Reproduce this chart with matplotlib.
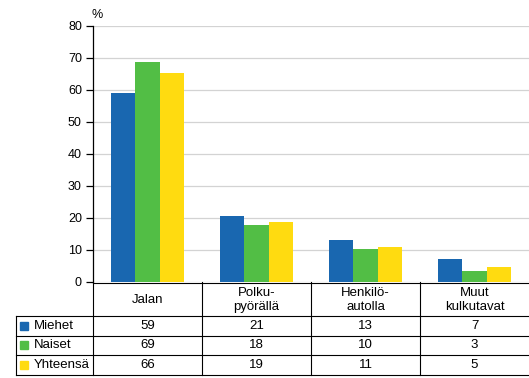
import matplotlib
matplotlib.use('Agg')
import matplotlib.pyplot as plt

plt.rcParams['font.family'] = ['Liberation Sans', 'DejaVu Sans']

categories = ['Jalan', 'Polku-\npyörällä', 'Henkilö-\nautolla', 'Muut\nkulkutavat']
series = ['Miehet', 'Naiset', 'Yhteensä']
miehet = [59.1, 20.6, 13.0, 7.3]
naiset = [68.8, 17.8, 10.2, 3.3]
yhteensa = [65.4, 18.8, 11.0, 4.6]
table_miehet = ['59', '21', '13', '7']
table_naiset = ['69', '18', '10', '3']
table_yhteensa = ['66', '19', '11', '5']
colors = ['#1967b0', '#52be45', '#ffdb10']

values = [miehet, naiset, yhteensa]
table_rows = [table_miehet, table_naiset, table_yhteensa]
fs = 9
tfs = 9.5

W, H = 529, 378
fig = plt.figure(figsize=(W / 100, H / 100), dpi=100)

# bar chart area
ax = fig.add_axes([93 / W, 96 / H, 436 / W, 256 / H])
bw = 0.225
for j, vals in enumerate(values):
    xs = [i + 0.5 + (j - 1) * bw for i in range(len(categories))]
    ax.bar(xs, vals, width=bw, color=colors[j], zorder=3)
ax.set_xlim(0, 4)
ax.set_ylim(0, 80)
ax.set_yticks(range(0, 81, 10))
ax.set_xticks([])
ax.yaxis.grid(True, color='#d3d3d3', lw=0.9)
ax.set_axisbelow(True)
for s in ['top', 'right', 'bottom']:
    ax.spines[s].set_visible(False)
ax.spines['left'].set_linewidth(0.9)
ax.tick_params(axis='y', length=5, width=0.9, labelsize=fs, pad=3)
fig.text(91 / W, 1 - 15 / H, '%', fontsize=fs, ha='left', va='center')

# data table below (y in image pixel rows)
tax = fig.add_axes([16 / W, 3 / H, 513 / W, 93 / H])
x0 = -77 / 109
tax.set_xlim(x0, 4)
tax.set_ylim(375, 282)
tax.axis('off')
lw = 0.8
rows_y = [316, 335.5, 355, 375]
tax.plot([0, 4], [282.5, 282.5], color='black', lw=lw, clip_on=False)
for y in rows_y:
    tax.plot([x0, 4], [y, y], color='black', lw=lw, clip_on=False)
tax.plot([x0, x0], [316, 375], color='black', lw=lw, clip_on=False)
for i in range(4):
    tax.plot([i, i], [282, 375], color='black', lw=lw, clip_on=False)

for i, cat in enumerate(categories):
    tax.text(i + 0.5, 300, cat, ha='center', va='center', fontsize=tfs,
             linespacing=1.15)

for r, (name, row) in enumerate(zip(series, table_rows)):
    yc = (rows_y[r] + rows_y[r + 1]) / 2
    tax.plot([(23.5 - 93) / 109], [yc], marker='s', markersize=5.5,
             color=colors[r], clip_on=False)
    tax.text((34 - 93) / 109, yc, name, ha='left', va='center', fontsize=tfs)
    for i, v in enumerate(row):
        tax.text(i + 0.5, yc, v, ha='center', va='center', fontsize=tfs)

fig.savefig('out.png', dpi=100)
